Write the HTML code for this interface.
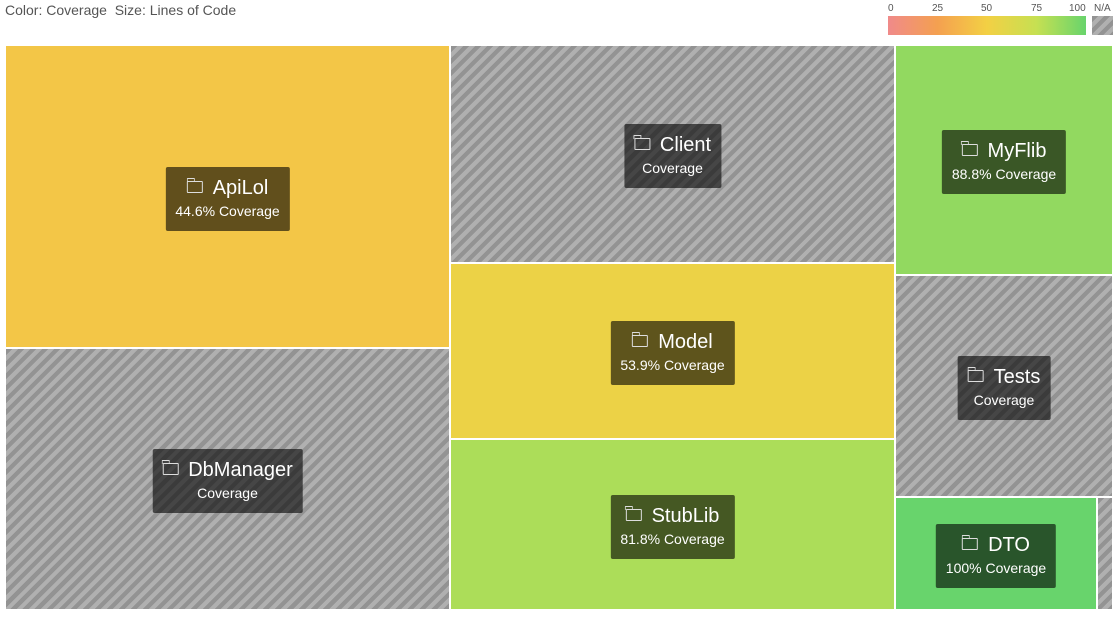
<!DOCTYPE html>
<html><head><meta charset="utf-8">
<style>
body{margin:0;width:1117px;height:623px;background:#fff;font-family:"Liberation Sans",Arial,sans-serif;overflow:hidden;position:relative}
.hatch{background:repeating-linear-gradient(135deg,#939393 0,#939393 4.3px,#b0b0b0 4.3px,#b0b0b0 8.5px)}
.cell{position:absolute;box-sizing:border-box;border:0.5px solid #fff}
.lbl{position:absolute;transform:translate(-50%,-50%);background:rgba(0,0,0,0.6);color:#fff;border-radius:2px;padding:9px 10px 9px;text-align:center;white-space:nowrap}
.nm{font-size:20px;line-height:24px}
.sb{font-size:14px;line-height:22px}
.fold{display:inline-block;width:14px;height:10px;border:1.3px solid #ddd;border-radius:1px;margin-right:10px;position:relative;vertical-align:1px}
.fold:before{content:"";position:absolute;left:-1.3px;top:-4px;width:6px;height:3px;border:1.3px solid #ddd;border-bottom:none;border-radius:1px 1px 0 0}
</style></head><body>
<div style="position:absolute;left:5px;top:2px;font-size:14px;color:#555">Color: Coverage&nbsp; Size: Lines of Code</div>
<div>
  <div style="position:absolute;left:888px;top:16px;width:198px;height:19px;background:linear-gradient(90deg,#f08a8a 0%,#f4a050 25%,#f3d044 50%,#c6e052 75%,#68d46c 100%)"></div>
  <div class="hatch" style="position:absolute;left:1092px;top:16px;width:21px;height:19px"></div>
  <div style="position:absolute;top:3px;font-size:10px;color:#555;left:0;width:1117px;height:12px">
    <span style="position:absolute;left:888px">0</span><span style="position:absolute;left:932px">25</span><span style="position:absolute;left:981px">50</span><span style="position:absolute;left:1031px">75</span><span style="position:absolute;left:1069px">100</span><span style="position:absolute;left:1094px">N/A</span>
  </div>
</div>
<div id="tm"></div>
<script>
const names=["ApiLol","DbManager","Client","Model","StubLib","MyFlib","Tests","DTO","Other"];
const linesOfCode=[134835,116590,97010,78320,76095,50140,48396,22826,1808];
const coverage=[44.6,null,null,53.9,81.8,88.8,null,100,null];
const columns=[[0,1],[2,3,4],[5,6,[7,8]]];
const X0=5,Y0=45,W=1108,H=565;
const stops=[[0,[240,138,138]],[25,[244,160,80]],[50,[243,208,68]],[75,[198,224,82]],[100,[104,212,108]]];
function colorOf(v){
  if(v==null) return null;
  for(let i=0;i<stops.length-1;i++){const a=stops[i],b=stops[i+1];
    if(v<=b[0]){const t=(v-a[0])/(b[0]-a[0]);return 'rgb('+a[1].map((c,k)=>Math.round(c+(b[1][k]-c)*t)).join(',')+')';}}
  return 'rgb(104,212,108)';
}
const tm=document.getElementById('tm');
const sumOf=g=>Array.isArray(g)?g.reduce((s,x)=>s+sumOf(x),0):linesOfCode[g];
const total=sumOf(columns);
function draw(i,x,y,w,h){
  const d=document.createElement('div');
  d.className='cell'+(coverage[i]==null?' hatch':'');
  
  
  d.style.cssText+=`left:${x}px;top:${y}px;width:${w}px;height:${h}px;`;
  if(coverage[i]!=null) d.style.background=colorOf(coverage[i]);
  tm.appendChild(d);
  if(w>60&&h>60){
    const l=document.createElement('div');
    l.className='lbl';
    
    
    l.style.left=(x+w/2)+'px';l.style.top=(y+h/2+2)+'px';
    l.innerHTML=`<div class="nm"><span class="fold"></span>${names[i]}</div><div class="sb">${coverage[i]!=null?coverage[i]+'% ':''}Coverage</div>`;
    tm.appendChild(l);
  }
}
let cx=X0;
columns.forEach(col=>{
  const cw=W*sumOf(col)/total;let cy=Y0;
  col.forEach(it=>{
    const rh=H*sumOf(it)/sumOf(col);
    if(Array.isArray(it)){let rx=cx;it.forEach(j=>{const rw=cw*linesOfCode[j]/sumOf(it);draw(j,rx,cy,rw,rh);rx+=rw;});}
    else draw(it,cx,cy,cw,rh);
    cy+=rh;
  });
  cx+=cw;
});
</script>
</body></html>
